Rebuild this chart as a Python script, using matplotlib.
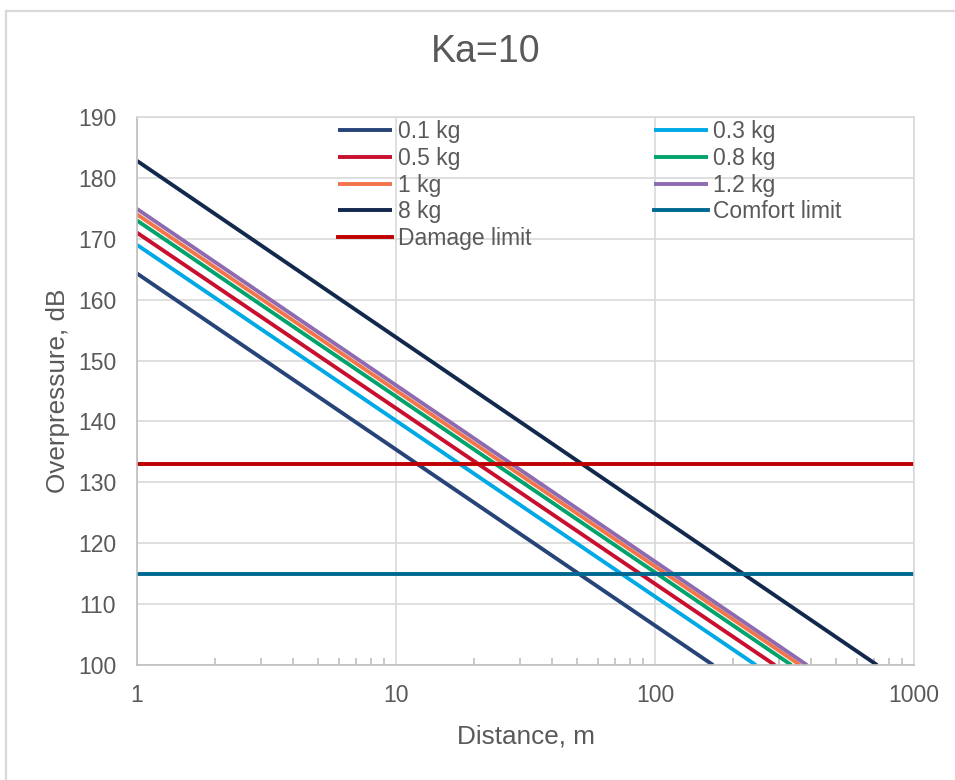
import numpy as np
import matplotlib.pyplot as plt
from matplotlib.lines import Line2D

# Dados: valor em 1 m e distancia onde cruza 100 dB
series = ['0.1 kg', '0.3 kg', '0.5 kg', '0.8 kg', '1 kg', '1.2 kg', '8 kg']
y_at_1m = [164.3, 169.0, 171.0, 173.0, 174.0, 174.9, 182.8]
x_at_100db = [167.5, 245.0, 290.0, 336.0, 363.0, 386.0, 720.0]
cores = ['#264478', '#00A9E6', '#C8102E', '#00A36C', '#F4754A', '#8E6BB0', '#12284C']

comfort_limit = 115
damage_limit = 133

plt.rcParams['font.family'] = ['Liberation Sans', 'DejaVu Sans']
cinza = '#595959'

fig = plt.figure(figsize=(9.55, 7.8), dpi=100)
ax = fig.add_axes([137/955, 1-665/780, 777/955, 548/780])

handles = []
for nome, y0, x1, c in zip(series, y_at_1m, x_at_100db, cores):
    h, = ax.plot([1, x1], [y0, 100], color=c, lw=2.8, label=nome, solid_capstyle='butt')
    handles.append(h)
h_c, = ax.plot([1, 1000], [comfort_limit]*2, color='#006890', lw=2.8, label='Comfort limit')
h_d, = ax.plot([1, 1000], [damage_limit]*2, color='#C00000', lw=2.8, label='Damage limit')
handles += [h_c, h_d]

ax.set_xscale('log')
ax.set_xlim(1, 1000)
ax.set_ylim(100, 190)
ax.set_yticks(np.arange(100, 191, 10))
ax.set_xticks([1, 10, 100, 1000])
ax.set_xticklabels(['1', '10', '100', '1000'])
ax.grid(True, which='major', color='#D9D9D9', lw=1.2)
ax.set_axisbelow(True)
ax.tick_params(axis='both', which='major', length=0, labelsize=16.5, labelcolor=cinza)
ax.tick_params(axis='x', which='major', pad=14)
ax.tick_params(axis='y', which='major', pad=15)
ax.tick_params(axis='x', which='minor', direction='in', length=5, color='#BFBFBF', width=1.2)
ax.tick_params(axis='y', which='minor', length=0)
for s in ['top', 'right']:
    ax.spines[s].set_color('#D9D9D9')
for s in ['left', 'bottom']:
    ax.spines[s].set_color('#BFBFBF')
for s in ax.spines.values():
    s.set_linewidth(1.2)

ax.set_xlabel('Distance, m', fontsize=18.8, color=cinza, labelpad=12)
ax.set_ylabel('Overpressure, dB', fontsize=18.8, color=cinza, labelpad=6)
fig.text(486/955, 1-52/780, 'Ka=10', fontsize=27, color=cinza, ha='center', va='center')

# ordem da legenda (matplotlib preenche por coluna)
ordem = [0, 2, 4, 6, 8, 1, 3, 5, 7]
leg = ax.legend([handles[i] for i in ordem], [handles[i].get_label() for i in ordem],
                ncol=2, loc='upper left', bbox_to_anchor=(0.2587, 0.995), frameon=False,
                fontsize=16.5, handlelength=2.35, handletextpad=0.25, labelspacing=0.17,
                columnspacing=5.35, borderpad=0, borderaxespad=0)
for t in leg.get_texts():
    t.set_color(cinza)

# borda do grafico
fig.add_artist(Line2D([5.5/955, 1], [1-10.5/780]*2, color='#D9D9D9', lw=1.6))
fig.add_artist(Line2D([5.5/955]*2, [0, 1-10.5/780], color='#D9D9D9', lw=1.6))

fig.savefig('out.png', dpi=100)
